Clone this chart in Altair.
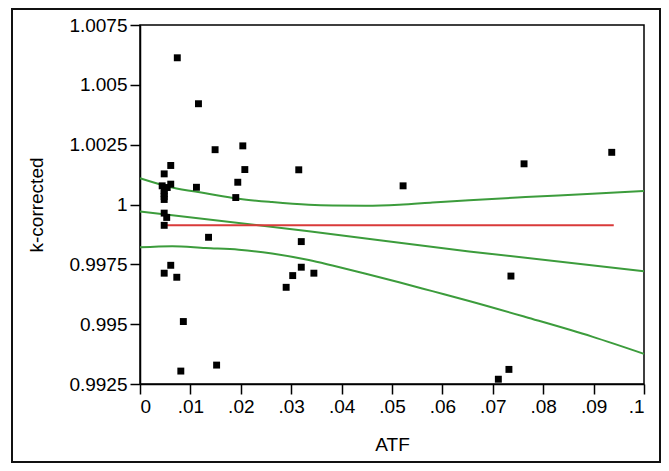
import altair as alt
import pandas as pd

# Scatter points (ATF, k-corrected)
atf = [0.0074, 0.0116, 0.0149, 0.0204, 0.0208, 0.0194, 0.0190, 0.0112, 0.0061, 0.0048,
       0.0061, 0.0044, 0.0054, 0.0048, 0.0048, 0.0048, 0.0048, 0.0048, 0.0053, 0.0048,
       0.0136, 0.0061, 0.0048, 0.0073, 0.0086, 0.0081, 0.0152, 0.0315, 0.0522, 0.0320,
       0.0320, 0.0303, 0.0345, 0.0290, 0.0762, 0.0936, 0.0736, 0.0732, 0.0711]
kcorr = [1.00613, 1.00421, 1.00229, 1.00245, 1.00146, 1.00093, 1.00029, 1.00072, 1.00163, 1.00128,
         1.00085, 1.00078, 1.00071, 1.00058, 1.00046, 1.00033, 1.00021, 0.99964, 0.99946, 0.99913,
         0.99863, 0.99746, 0.99713, 0.99696, 0.99511, 0.99304, 0.99329, 1.00145, 1.00078, 0.99845,
         0.99738, 0.99703, 0.99713, 0.99654, 1.00170, 1.00218, 0.99701, 0.99311, 0.99270]

# Regression line and confidence band (green)
fit_x = [0, 0.0335, 0.0653, 0.1]
fit_y = [0.99971, 0.99888, 0.99804, 0.99721]
band_x = [0, 0.0064, 0.013, 0.0196, 0.0262, 0.0335, 0.0382, 0.0448, 0.0514, 0.058, 0.0653, 0.0765, 0.0897, 0.1]
upper_y = [1.0011, 1.00071, 1.00047, 1.00024, 1.0001, 0.99999, 0.99996, 0.99995, 0.99999, 1.00008,
           1.00018, 1.00031, 1.00045, 1.00057]
lower_y = [0.99821, 0.99826, 0.99818, 0.99811, 0.99795, 0.99768, 0.99745, 0.99711, 0.99675, 0.99638,
           0.99597, 0.9953, 0.99448, 0.99376]

# Mean line (red)
mean_x = [0.0047, 0.094]
mean_y = [0.99913, 0.99913]

x_ticks = [0, 0.01, 0.02, 0.03, 0.04, 0.05, 0.06, 0.07, 0.08, 0.09, 0.1]
y_ticks = [0.9925, 0.995, 0.9975, 1.0, 1.0025, 1.005, 1.0075]

FONT = "Liberation Sans"
W, H = 504, 359

pts = pd.DataFrame({"ATF": atf, "k": kcorr})
green = pd.concat([
    pd.DataFrame({"ATF": fit_x, "k": fit_y, "s": "fit"}),
    pd.DataFrame({"ATF": band_x, "k": upper_y, "s": "upper"}),
    pd.DataFrame({"ATF": band_x, "k": lower_y, "s": "lower"}),
])
red = pd.DataFrame({"ATF": mean_x, "k": mean_y})

xscale = alt.Scale(domain=[0, 0.1], nice=False, zero=False)
yscale = alt.Scale(domain=[0.9925, 1.0075], nice=False, zero=False)

xenc = alt.X("ATF:Q", scale=xscale, axis=alt.Axis(
    values=x_ticks, title="ATF", grid=False,
    labelExpr="datum.value == 0 ? '0' : replace(format(datum.value, '.2~f'), '0.', '.')",
    titleX=W / 2, titleY=60, titleAlign="center", titleBaseline="middle"))
yenc = alt.Y("k:Q", scale=yscale, axis=alt.Axis(
    values=y_ticks, title="k-corrected", grid=False, format=".4~f",
    titleX=-104, titleY=H / 2, titleAngle=-90, titleAlign="center", titleBaseline="middle"))

frame = alt.Chart(pd.DataFrame({"a": [0]})).mark_rect(
    fill=None, stroke="#111", strokeWidth=2
).encode(x=alt.value(-128), x2=alt.value(W + 16), y=alt.value(-16), y2=alt.value(H + 78))

lines_g = alt.Chart(green).mark_line(color="#3c9c3c", strokeWidth=2, interpolate="monotone").encode(
    x=xenc, y=yenc, detail="s:N")
line_r = alt.Chart(red).mark_line(color="#d93a3a", strokeWidth=2).encode(
    x=alt.X("ATF:Q", scale=xscale), y=alt.Y("k:Q", scale=yscale))
points = alt.Chart(pts).mark_square(color="black", size=48, opacity=1).encode(
    x=alt.X("ATF:Q", scale=xscale), y=alt.Y("k:Q", scale=yscale))

chart = alt.layer(frame, lines_g, line_r, points).properties(
    width=W, height=H, background="white",
    padding={"left": 3, "top": 0, "right": 0, "bottom": 0}
).configure_view(stroke="black", strokeWidth=1.5).configure_axis(
    labelFont=FONT, titleFont=FONT, labelFontSize=19, titleFontSize=19,
    labelColor="black", titleColor="black", titleFontWeight="normal",
    domainColor="black", domainWidth=1.5, tickColor="black", tickWidth=1.5,
    tickSize=10, labelPadding=3
)

chart.save("out.html", embed_options={"renderer": "svg", "actions": False})
